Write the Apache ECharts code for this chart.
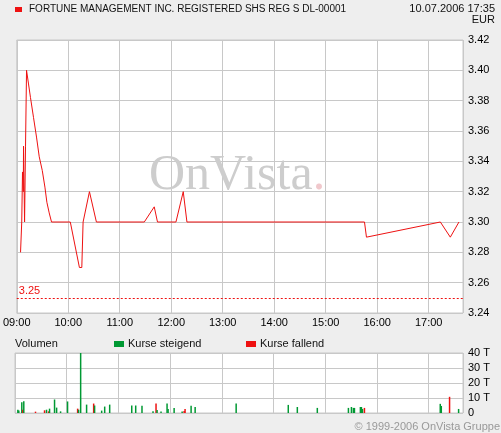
<!DOCTYPE html>
<html>
<head>
<meta charset="utf-8">
<script src="https://cdn.jsdelivr.net/npm/echarts@6/dist/echarts.min.js"></script>
<style>
  html, body { margin: 0; padding: 0; background: #eeeeee; }
  #chart { width: 501px; height: 433px; }
</style>
</head>
<body>
<div id="chart"></div>
<script>
// minutes after 09:00 and last price (EUR)
var priceTimes = [4.4, 5.8, 6.7, 7.6, 7.9, 9.1, 10.2, 11.4, 13.7, 16.0, 19.5, 23.0, 26.2, 29.7, 32.8, 35.1, 37.8, 40.5,
                  62.4, 73.0, 75.8, 77.3, 84.7, 92.8, 148.6, 160.2, 164.0, 185.5, 194.0, 198.3, 405.2, 407.5, 493.6, 495.5, 505.2, 515.3];
var priceValues = [3.28, 3.30, 3.333, 3.32, 3.35, 3.30, 3.35, 3.40, 3.391, 3.382, 3.369, 3.356, 3.343, 3.334, 3.323, 3.313, 3.306, 3.30,
                   3.30, 3.27, 3.27, 3.30, 3.32, 3.30, 3.30, 3.31, 3.30, 3.30, 3.32, 3.30, 3.30, 3.29, 3.30, 3.30, 3.29, 3.30];
var refLevel = 3.25;

// volume in thousands, 1 = rising, 0 = falling
var volTimes = [3.3, 4.4, 7.9, 9.1, 10.2, 23.8, 34.3, 36.6, 39.0, 40.1, 45.9, 48.3, 52.9, 61.0, 72.7, 73.8, 76.2, 83.1, 91.3, 92.4,
                100.6, 104.1, 109.9, 135.5, 140.1, 147.4, 160.2, 163.7, 164.9, 169.5, 176.5, 177.7, 184.7, 194.0, 196.3, 197.4,
                204.4, 209.1, 256.7, 317.2, 327.7, 350.9, 387.0, 390.5, 392.8, 394.0, 400.9, 402.1, 403.3, 405.6, 493.6, 494.8, 504.4, 514.9];
var volValues = [2.2, 1.6, 7.2, 2.2, 7.9, 0.9, 1.8, 2.2, 1.1, 2.9, 9, 3.6, 1.1, 7.7, 2.9, 2.2, 40, 5.6, 6.3, 5,
                 1.6, 4.3, 5.6, 5, 5, 4.9, 1.2, 6.3, 2, 1, 6.3, 2.7, 3.4, 1, 1.4, 2.7,
                 4.9, 4, 6.3, 5.4, 4, 3.4, 3.4, 4, 3.4, 3.4, 4, 4, 2.7, 3.4, 6.1, 4.7, 10.8, 2.7];
var volUp = [1, 1, 1, 0, 1, 0, 0, 1, 0, 1, 1, 1, 1, 1, 0, 1, 1, 1, 0, 1,
             1, 1, 1, 1, 1, 1, 1, 0, 1, 1, 1, 1, 1, 1, 0, 0,
             1, 1, 1, 1, 1, 1, 1, 1, 1, 1, 1, 1, 1, 0, 1, 1, 0, 1];

var priceTicks = [3.24, 3.42, 0.02];
var volTicks = [0, 40, 10];

var RED = '#ee1111';
var GREEN = '#009933';
var GRIDC = '#c8c8c8';
var FONT = '"Liberation Sans", Arial, sans-serif';

function hourLabel(v) {
    if (v % 60 !== 0) return '';
    var h = 9 + v / 60;
    return (h < 10 ? '0' : '') + h + ':00';
}

var myChart = echarts.init(document.getElementById('chart'));

var option = {
    animation: false,
    backgroundColor: '#eeeeee',
    textStyle: { fontFamily: FONT },
    grid: [
        { left: 15, right: 38, top: 40, bottom: 120, show: true, backgroundColor: '#ffffff', borderColor: GRIDC, borderWidth: 1 },
        { left: 15, right: 38, top: 353, bottom: 20, show: true, backgroundColor: '#ffffff', borderColor: GRIDC, borderWidth: 1 }
    ],
    xAxis: [
        {
            gridIndex: 0, type: 'value', min: 0, max: 520, interval: 60,
            axisLine: { show: false }, axisTick: { show: false },
            splitLine: { lineStyle: { color: GRIDC } },
            axisLabel: { formatter: hourLabel, color: '#000', fontSize: 11, margin: 4, fontFamily: FONT }
        },
        {
            gridIndex: 1, type: 'value', min: 0, max: 520, interval: 60,
            axisLine: { show: false }, axisTick: { show: false },
            splitLine: { lineStyle: { color: GRIDC } },
            axisLabel: { show: false }
        }
    ],
    yAxis: [
        {
            gridIndex: 0, type: 'value', position: 'right',
            min: priceTicks[0], max: priceTicks[1], interval: priceTicks[2],
            axisLine: { show: false }, axisTick: { show: false },
            splitLine: { lineStyle: { color: GRIDC } },
            axisLabel: { formatter: function (v) { return v.toFixed(2); }, color: '#000', fontSize: 11, margin: 5, fontFamily: FONT }
        },
        {
            gridIndex: 1, type: 'value', position: 'right',
            min: volTicks[0], max: volTicks[1], interval: volTicks[2],
            axisLine: { show: false }, axisTick: { show: false },
            splitLine: { lineStyle: { color: GRIDC } },
            axisLabel: { formatter: function (v) { return v === 0 ? '0' : v + ' T'; }, color: '#000', fontSize: 11, margin: 5, fontFamily: FONT }
        }
    ],
    graphic: [
        { type: 'rect', left: 15, top: 7, shape: { width: 7, height: 5 }, style: { fill: RED } },
        { type: 'text', left: 29, top: 4, style: { text: 'FORTUNE MANAGEMENT INC. REGISTERED SHS REG S DL-00001', font: '10px ' + FONT, fill: '#111' } },
        { type: 'text', right: 6, top: 3, style: { text: '10.07.2006 17:35', font: '11px ' + FONT, fill: '#111', align: 'right' } },
        { type: 'text', right: 6, top: 14, style: { text: 'EUR', font: '11px ' + FONT, fill: '#111', align: 'right' } },
        {
            type: 'text', left: 149, top: 151, z: 1,
            style: {
                text: '{a|OnVista}{b|.}',
                rich: {
                    a: { fontFamily: '"Liberation Serif", "DejaVu Serif", serif', fontSize: 50, fill: '#cdcdcd' },
                    b: { fontFamily: '"Liberation Serif", "DejaVu Serif", serif', fontSize: 50, fill: '#f0c8cc' }
                }
            }
        },
        { type: 'text', left: 15, top: 338, style: { text: 'Volumen', font: '11px ' + FONT, fill: '#111' } },
        { type: 'rect', left: 114, top: 341, shape: { width: 10, height: 6 }, style: { fill: GREEN } },
        { type: 'text', left: 128, top: 338, style: { text: 'Kurse steigend', font: '11px ' + FONT, fill: '#111' } },
        { type: 'rect', left: 246, top: 341, shape: { width: 10, height: 6 }, style: { fill: RED } },
        { type: 'text', left: 260, top: 338, style: { text: 'Kurse fallend', font: '11px ' + FONT, fill: '#111' } },
        { type: 'text', right: 1, top: 421, style: { text: '\u00a9 1999-2006 OnVista Gruppe', font: '11px ' + FONT, fill: '#999999', align: 'right' } }
    ],
    series: [
        {
            type: 'line', xAxisIndex: 0, yAxisIndex: 0, z: 3,
            showSymbol: false, silent: true,
            data: priceTimes.map(function (t, i) { return [t, priceValues[i]]; }),
            lineStyle: { color: RED, width: 1 },
            itemStyle: { color: RED },
            markLine: {
                symbol: 'none', silent: true,
                data: [{ yAxis: refLevel }],
                lineStyle: { color: RED, type: [2, 2], width: 1 },
                label: { position: 'insideStartTop', formatter: refLevel.toFixed(2), color: RED, fontSize: 11, fontFamily: FONT, distance: [2, 1] }
            }
        },
        {
            type: 'bar', xAxisIndex: 1, yAxisIndex: 1, barWidth: 1.5, silent: true,
            data: volTimes.map(function (t, i) {
                return { value: [t, volValues[i]], itemStyle: { color: volUp[i] ? GREEN : RED } };
            })
        }
    ]
};

myChart.setOption(option);
</script>
</body>
</html>
